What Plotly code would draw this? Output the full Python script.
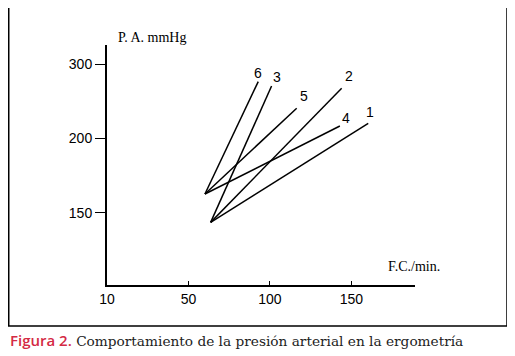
import plotly.graph_objects as go

# Data (heart rate F.C./min vs. blood pressure P.A. mmHg)
line_labels = ["1", "2", "3", "4", "5", "6"]
fc_start = [63.6, 63.6, 63.6, 60.1, 60.1, 60.1]
pa_start = [143.5, 143.5, 143.5, 162.6, 162.6, 162.6]
fc_end = [160.3, 144.0, 101.0, 142.9, 116.4, 92.8]
pa_end = [210.2, 233.8, 235.4, 208.4, 220.4, 238.3]

x_tickvals = [0, 50, 100, 150]
x_ticktext = ["10", "50", "100", "150"]
y_tickvals = [150, 200, 250]
y_ticktext = ["150", "200", "300"]

# label offsets (pixels) from the line ends
label_dx = [2, 7, 5, 6, 7, 0]
label_dy = [11, 12, 9, 8, 12, 9]

fig = go.Figure()
for i, name in enumerate(line_labels):
    fig.add_trace(go.Scatter(
        x=[fc_start[i], fc_end[i]], y=[pa_start[i], pa_end[i]],
        mode="lines", line=dict(color="black", width=1.5),
        name=name, showlegend=False, hoverinfo="skip"))
    fig.add_annotation(x=fc_end[i], y=pa_end[i], text=name, showarrow=False,
                       xshift=label_dx[i], yshift=label_dy[i],
                       font=dict(family="Liberation Sans, Arial", size=14, color="black"))

axis_font = dict(family="Liberation Sans, Arial", size=14, color="black")
fig.update_xaxes(range=[0, 189], tickvals=x_tickvals, ticktext=x_ticktext,
                 showline=True, linecolor="black", linewidth=2, showgrid=False,
                 zeroline=False, ticks="inside", ticklen=4, tickwidth=1,
                 tickcolor="black", tickfont=axis_font)
fig.update_yaxes(range=[101.3, 263], tickvals=y_tickvals, ticktext=y_ticktext,
                 showline=True, linecolor="black", linewidth=2, showgrid=False,
                 zeroline=False, ticks="outside", ticklen=10, tickwidth=1,
                 tickcolor="black", tickfont=axis_font)

serif = "Liberation Serif, Times New Roman, serif"
fig.add_annotation(xref="paper", yref="paper", x=0.146, y=1.033, text="P. A. mmHg",
                   xanchor="center", yanchor="middle",
                   showarrow=False, font=dict(family=serif, size=14, color="black"))
fig.add_annotation(xref="paper", yref="paper", x=0.997, y=0.079, text="F.C./min.",
                   xanchor="center", yanchor="middle",
                   showarrow=False, font=dict(family=serif, size=14, color="black"))

# frame around the figure
fig.add_shape(type="rect", xref="paper", yref="paper", x0=-0.319, x1=1.2987,
              y0=-0.1708, y1=1.3, line=dict(color="black", width=1.5))

fig.add_annotation(
    xref="paper", yref="paper", x=-0.321, y=-0.229, xanchor="left", yanchor="middle",
    showarrow=False, align="left",
    text="<span style='font-family:Open Sans, Noto Sans; font-weight:600; font-size:15px; color:#d42a45'>Figura 2.</span>"
         " Comportamiento de la presión arterial en la ergometría",
    font=dict(family="DejaVu Serif, serif", size=13.7, color="#222"))

# page body has an 8px margin, so the figure is placed at (8, 8)
fig.update_layout(width=507, height=348, paper_bgcolor="white", plot_bgcolor="white",
                  margin=dict(l=99, r=100, t=37, b=71))
fig.write_html("out.html")
